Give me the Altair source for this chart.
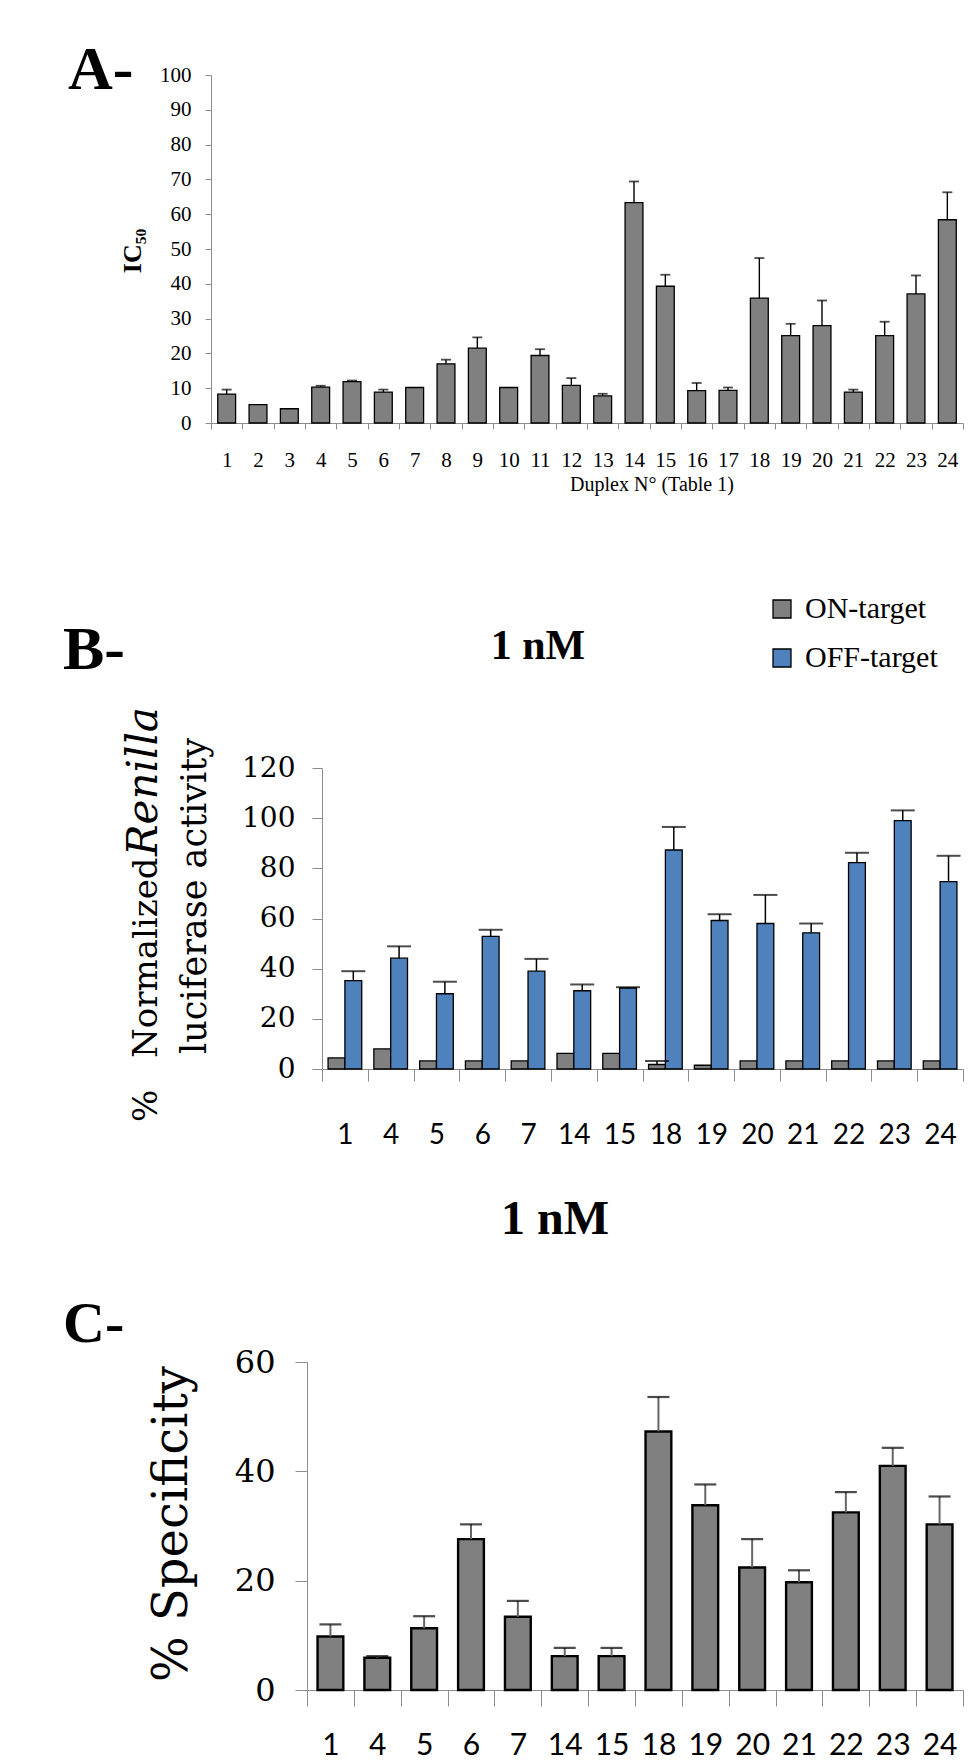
import altair as alt
import pandas as pd

# ---------------- Panel A data: IC50 per duplex ----------------
dup_a = list(range(1, 25))
ic50 = [8.3, 5.3, 4.1, 10.3, 11.9, 8.9, 10.2, 17.0, 21.5, 10.2, 19.4, 10.8,
        7.8, 63.3, 39.3, 9.3, 9.4, 35.9, 25.1, 28.0, 8.9, 25.1, 37.1, 58.4]
ic50_err = [1.3, 0, 0, 0.4, 0.3, 0.7, 0, 1.2, 3.1, 0, 1.8, 2.1,
            0.6, 6.1, 3.3, 2.2, 0.8, 11.5, 3.4, 7.2, 0.7, 4.0, 5.3, 7.9]
a_ticks = list(range(0, 101, 10))

# ---------------- Panel B data: normalized Renilla activity at 1 nM ----------------
dup_b = [1, 4, 5, 6, 7, 14, 15, 18, 19, 20, 21, 22, 23, 24]
series = ["ON-target", "OFF-target"]
on_target = [4.4, 8.0, 3.2, 3.2, 3.2, 6.2, 6.2, 1.8, 1.5, 3.2, 3.2, 3.2, 3.2, 3.2]
on_err = [0, 0, 0, 0, 0, 0, 0, 1.4, 0, 0, 0, 0, 0, 0]
off_target = [35.2, 44.2, 30.0, 52.9, 39.0, 31.2, 32.3, 87.3, 59.2, 58.0, 54.3, 82.3, 99.0, 74.7]
off_err = [3.8, 4.7, 4.8, 2.6, 4.9, 2.5, 0.3, 9.2, 2.5, 11.4, 3.7, 3.9, 4.1, 10.3]
b_ticks = list(range(0, 121, 20))
series_colors = ["#808080", "#4f81bd"]

# ---------------- Panel C data: % specificity at 1 nM ----------------
dup_c = dup_b
specificity = [9.8, 5.9, 11.3, 27.6, 13.4, 6.2, 6.2, 47.3, 33.8, 22.4, 19.7, 32.5, 41.0, 30.3]
spec_err = [2.2, 0.3, 2.2, 2.7, 2.9, 1.5, 1.5, 6.3, 3.8, 5.2, 2.2, 3.7, 3.3, 5.1]
c_ticks = [0, 20, 40, 60]

SERIF = "Liberation Serif"
CAMB = "DejaVu Serif"
SANS = "Lato"
AXC = "#8c8c8c"


def txt(s, x, y, size, font=SERIF, weight="normal", style="normal", angle=0,
        align="left", baseline="alphabetic"):
    return alt.Chart(alt.Data(values=[{"t": s}])).mark_text(
        font=font, fontSize=size, fontWeight=weight, fontStyle=style,
        angle=angle, align=align, baseline=baseline, color="black"
    ).encode(text="t:N", x=alt.value(x), y=alt.value(y))


def anchor(x, y0, y1):
    return alt.Chart(alt.Data(values=[{"a": 0}])).mark_rule(
        strokeOpacity=0, strokeWidth=0.01
    ).encode(x=alt.value(x), y=alt.value(y0), y2=alt.value(y1))


def spacer():
    return alt.Chart(alt.Data(values=[{"a": 0}])).mark_rule(
        strokeOpacity=0, strokeWidth=0.01
    ).encode(x=alt.value(0), y=alt.value(0), y2=alt.value(1)).properties(width=1, height=1)


# ================= Panel A =================
WA, HA = 752, 348
df_a = pd.DataFrame({"dup": dup_a, "v": ic50, "e": ic50_err})
df_a["top"] = df_a["v"] + df_a["e"]

xa = alt.X("dup:O", sort=dup_a, scale=alt.Scale(paddingInner=0, paddingOuter=0),
           axis=alt.Axis(title=None, labelAngle=0, tickBand="extent", tickSize=6,
                         tickColor=AXC, domainColor=AXC, labelFont=SERIF,
                         labelFontSize=21, labelColor="black", labelPadding=20))
ya_scale = alt.Scale(domain=[0, 100], nice=False)
ya_axis = alt.Axis(title=None, grid=False, values=a_ticks, tickSize=6, tickColor=AXC,
                   domainColor=AXC, labelFont=SERIF, labelFontSize=21,
                   labelColor="black", labelPadding=14)

bars_a = alt.Chart(df_a).mark_bar(
    width=alt.RelativeBandSize(0.57), fill="#808080", stroke="black", strokeWidth=1.3
).encode(x=xa, y=alt.Y("v:Q", scale=ya_scale, axis=ya_axis))
errs_a = alt.Chart(df_a).transform_filter("datum.e > 0").mark_rule(
    color="black", strokeWidth=1.4
).encode(x=xa, y=alt.Y("v:Q", scale=ya_scale, axis=ya_axis), y2="top:Q")
caps_a = alt.Chart(df_a).transform_filter("datum.e > 0").mark_tick(
    color="black", thickness=1.8, size=10, orient="horizontal"
).encode(x=xa, y=alt.Y("top:Q", scale=ya_scale, axis=ya_axis))

panel_a = alt.layer(
    anchor(-202, -67, 425), bars_a, errs_a, caps_a,
    txt("A-", -143, 14, 62, weight="bold"),
    txt("IC\u2085\u2080", -70, 176, 26, weight="bold", angle=270, align="center"),
    txt("Duplex N\u00b0 (Table 1)", 441, 416, 20, align="center"),
).properties(width=WA, height=HA)

# ================= Panel B =================
WB, HB = 641, 301
df_b = pd.DataFrame({
    "dup": dup_b + dup_b,
    "series": [series[0]] * len(dup_b) + [series[1]] * len(dup_b),
    "v": on_target + off_target,
    "e": on_err + off_err,
})
df_b["top"] = df_b["v"] + df_b["e"]

xb = alt.X("dup:O", sort=dup_b, scale=alt.Scale(paddingInner=0, paddingOuter=0),
           axis=alt.Axis(title=None, labelAngle=0, tickBand="extent", tickSize=12,
                         tickColor=AXC, domainColor=AXC, labelFont=SANS,
                         labelFontSize=28, labelColor="black", labelPadding=40))
xob = alt.XOffset("series:N", sort=series,
                  scale=alt.Scale(domain=series, paddingOuter=0.36, paddingInner=0))
yb_scale = alt.Scale(domain=[0, 120], nice=False)
yb_axis = alt.Axis(title=None, grid=False, values=b_ticks, tickSize=10, tickColor=AXC,
                   domainColor=AXC, labelFont=CAMB, labelFontSize=28,
                   labelColor="black", labelPadding=17)

# legend is hoisted to the top level of the concat: coordinates are top-level ones
bars_b = alt.Chart(df_b).mark_bar(stroke="black", strokeWidth=1.3).encode(
    x=xb, xOffset=xob, y=alt.Y("v:Q", scale=yb_scale, axis=yb_axis),
    color=alt.Color("series:N", sort=series,
                    scale=alt.Scale(domain=series, range=series_colors),
                    legend=alt.Legend(title=None, orient="none", legendX=759, legendY=519,
                                      symbolType="square", symbolSize=324,
                                      symbolStrokeColor="black", symbolStrokeWidth=1.3,
                                      symbolOpacity=1, labelFont=SERIF, labelFontSize=30,
                                      labelColor="black", rowPadding=19, labelOffset=8,
                                      padding=0)),
)
errs_b = alt.Chart(df_b).transform_filter("datum.e > 0").mark_rule(
    color="black", strokeWidth=1.5
).encode(x=xb, xOffset=xob, y=alt.Y("v:Q", scale=yb_scale, axis=yb_axis), y2="top:Q")
caps_b = alt.Chart(df_b).transform_filter("datum.e > 0").mark_tick(
    color="black", thickness=2, size=24, orient="horizontal"
).encode(x=xb, xOffset=xob, y=alt.Y("top:Q", scale=yb_scale, axis=yb_axis))

panel_b = alt.layer(
    anchor(-313, -268, 382), bars_b, errs_b, caps_b,
    txt("B-", -259, -99, 62, weight="bold"),
    txt("1 nM", 216, -109, 42, weight="bold", align="center"),
    txt("%", -165, 354, 34, font=CAMB, angle=270),
    txt("Normalized", -165, 290, 34, font=CAMB, angle=270),
    txt("Renilla", -165, 88, 42, font=CAMB, style="italic", angle=270),
    txt("luciferase activity", -116, 128, 35, font=CAMB, angle=270, align="center"),
).properties(width=WB, height=HB)

# ================= Panel C =================
WC, HC = 656, 328
df_c = pd.DataFrame({"dup": dup_c, "v": specificity, "e": spec_err})
df_c["top"] = df_c["v"] + df_c["e"]

xc = alt.X("dup:O", sort=dup_c, scale=alt.Scale(paddingInner=0, paddingOuter=0),
           axis=alt.Axis(title=None, labelAngle=0, tickBand="extent", tickSize=16,
                         tickColor=AXC, domainColor=AXC, labelFont=SANS,
                         labelFontSize=30, labelColor="black", labelPadding=24))
yc_scale = alt.Scale(domain=[0, 60], nice=False)
yc_axis = alt.Axis(title=None, grid=False, values=c_ticks, tickSize=12, tickColor=AXC,
                   domainColor=AXC, labelFont=CAMB, labelFontSize=32,
                   labelColor="black", labelPadding=20)

bars_c = alt.Chart(df_c).mark_bar(
    width=alt.RelativeBandSize(0.55), fill="#808080", stroke="black", strokeWidth=2.4
).encode(x=xc, y=alt.Y("v:Q", scale=yc_scale, axis=yc_axis))
errs_c = alt.Chart(df_c).mark_rule(color="#666666", strokeWidth=2).encode(
    x=xc, y=alt.Y("v:Q", scale=yc_scale, axis=yc_axis), y2="top:Q")
caps_c = alt.Chart(df_c).mark_tick(
    color="black", thickness=2.2, size=22, orient="horizontal"
).encode(x=xc, y=alt.Y("top:Q", scale=yc_scale, axis=yc_axis))

panel_c = alt.layer(
    anchor(-298, -212, 330), bars_c, errs_c, caps_c,
    txt("C-", -244, -20, 58, weight="bold"),
    txt("1 nM", 248, -128, 48, weight="bold", align="center"),
    txt("% Specificity", -120, 162, 48, font=CAMB, angle=270, align="center"),
).properties(width=WC, height=HC)


def row(p):
    return alt.hconcat(spacer(), p, spacing=0)


chart = alt.vconcat(row(panel_a), row(panel_b), row(panel_c), spacing=0).properties(
    padding=0
).configure_view(stroke=None)

chart.save("out.html", embed_options={"renderer": "svg", "actions": False})
